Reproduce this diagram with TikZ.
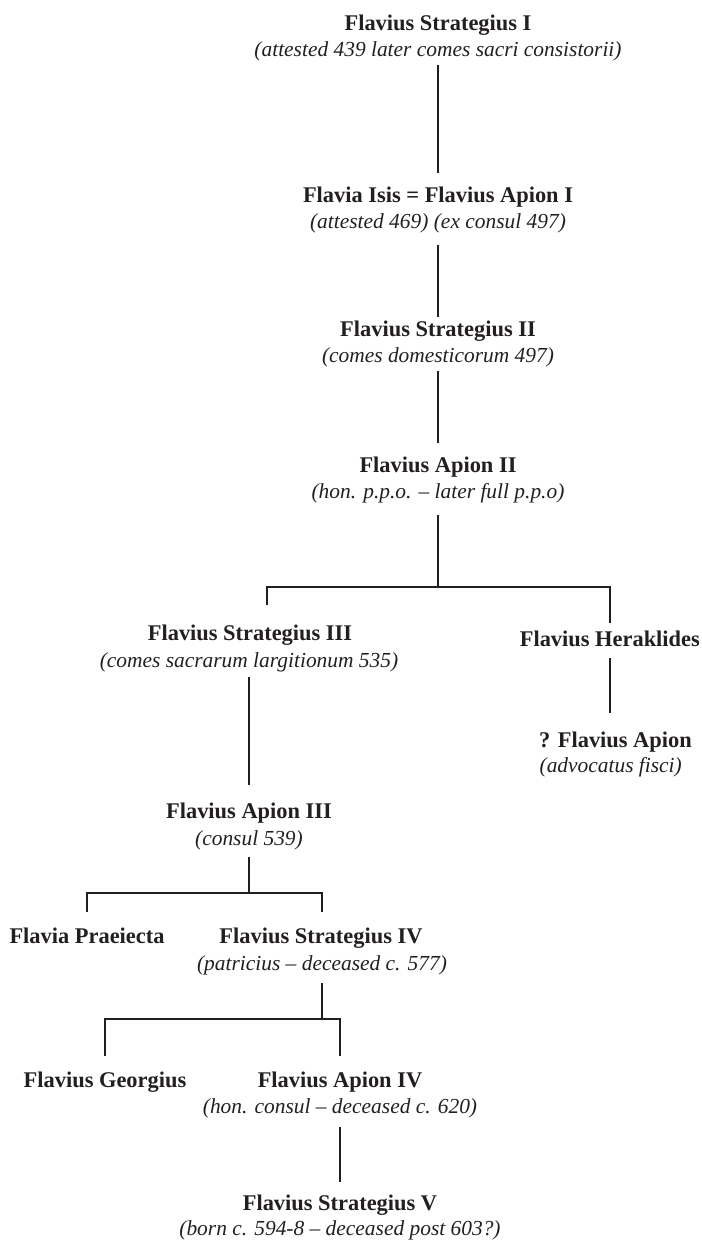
\documentclass[tikz,border=0pt]{standalone}
\usepackage{fontspec}
\setmainfont{Liberation Serif}
\definecolor{ink}{HTML}{231F20}
\begin{document}
\begin{tikzpicture}[x=1bp,y=-1bp,
  nm/.style={anchor=base, inner sep=0pt, font=\fontsize{22.5}{26}\selectfont\bfseries, text=ink},
  nt/.style={anchor=base, inner sep=0pt, font=\fontsize{21.5}{26}\selectfont\itshape, text=ink},
  conn/.style={draw=ink, line width=1.3bp, line join=miter}]
\useasboundingbox (0,0) rectangle (702,1243);
% people
\node[nm] (s1) at (438,30) {Flavius Strategius I};
\node[nt] (s1n) at (438,56) {(attested 439 later comes sacri consistorii)};
\node[nm] (isis) at (438,202) {Flavia Isis = Flavius Apion I};
\node[nt] (isisn) at (438,228) {(attested 469) (ex consul 497)};
\node[nm] (s2) at (438,336) {Flavius Strategius II};
\node[nt] (s2n) at (438,362) {(comes domesticorum 497)};
\node[nm] (a2) at (438,472) {Flavius Apion II};
\node[nt] (a2n) at (438,498) {(hon. p.p.o. -- later full p.p.o)};
\node[nm] (s3) at (250,640) {Flavius Strategius III};
\node[nt] (s3n) at (249,667) {(comes sacrarum largitionum 535)};
\node[nm, anchor=base east] (her) at (700,646) {Flavius Heraklides};
\node[nm, anchor=base east] (ap) at (692,747) {? Flavius Apion};
\node[nt, anchor=base east] (apn) at (682,772) {(advocatus fisci)};
\node[nm] (a3) at (249,818) {Flavius Apion III};
\node[nt] (a3n) at (249,845) {(consul 539)};
\node[nm] (prae) at (87,943) {Flavia Praeiecta};
\node[nm] (s4) at (321,943) {Flavius Strategius IV};
\node[nt] (s4n) at (322,970) {(patricius -- deceased c. 577)};
\node[nm] (geo) at (105,1087) {Flavius Georgius};
\node[nm] (a4) at (340,1087) {Flavius Apion IV};
\node[nt] (a4n) at (340,1113) {(hon. consul -- deceased c. 620)};
\node[nm] (s5) at (340,1210) {Flavius Strategius V};
\node[nt] (s5n) at (340,1235) {(born c. 594-8 -- deceased post 603?)};
% junctions
\coordinate (j1) at (438,587); \coordinate (j1l) at (267,587); \coordinate (j1r) at (610,587);
\coordinate (j2) at (249,893); \coordinate (j2l) at (87,893); \coordinate (j2r) at (322,893);
\coordinate (j3) at (322,1019); \coordinate (j3l) at (105,1019); \coordinate (j3r) at (340,1019);
% connectors
\draw[conn] ([yshift=-9bp]s1n.base) -- ([yshift=29bp]isis.base);
\draw[conn] ([yshift=-17bp]isisn.base) -- ([yshift=19bp]s2.base);
\draw[conn] ([yshift=-9bp]s2n.base) -- ([yshift=29bp]a2.base);
\draw[conn] ([yshift=-17bp]a2n.base) -- (j1);
\draw[conn] ([yshift=35bp]j1l |- s3.base) -- (j1l) -- (j1r) -- ([yshift=23bp]j1r |- her.base);
\draw[conn] ([yshift=-12bp]j1r |- her.base) -- ([yshift=34bp]j1r |- ap.base);
\draw[conn] ([yshift=-10bp]s3n.base) -- ([yshift=33bp]a3.base);
\draw[conn] ([yshift=-12bp]a3n.base) -- (j2);
\draw[conn] ([yshift=31bp]prae.base) -- (j2l) -- (j2r) -- ([yshift=31bp]j2r |- s4.base);
\draw[conn] ([yshift=-13bp]s4n.base) -- (j3);
\draw[conn] ([yshift=31bp]geo.base) -- (j3l) -- (j3r) -- ([yshift=31bp]a4.base);
\draw[conn] ([yshift=-14bp]a4n.base) -- ([yshift=28bp]s5.base);
\end{tikzpicture}
\end{document}
